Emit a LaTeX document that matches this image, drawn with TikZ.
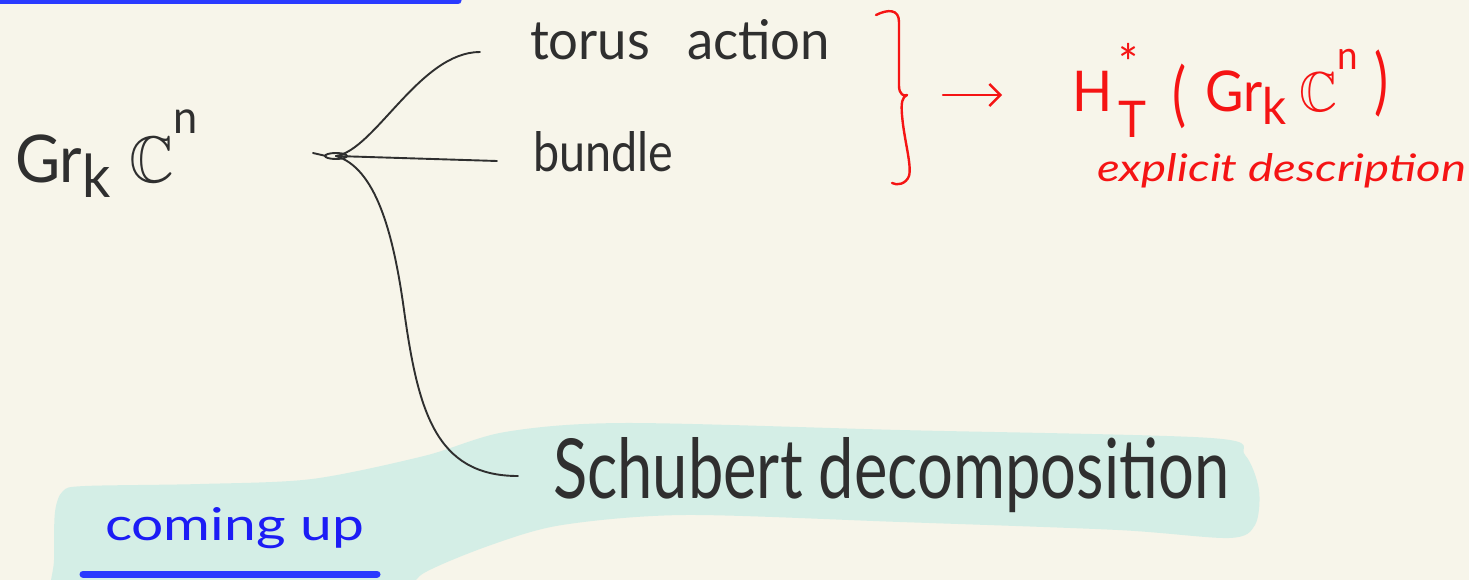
\documentclass[tikz,border=0pt]{standalone}
\usepackage{fontspec}
\setmainfont{Lato}
\usepackage{amssymb}
\usepackage{graphicx}
\usetikzlibrary{arrows.meta}

\definecolor{paper}{HTML}{F7F5EA}
\definecolor{marker}{HTML}{D4EEE6}
\definecolor{ink}{HTML}{2F2F2F}
\definecolor{redink}{HTML}{F51414}
\definecolor{blueink}{HTML}{1C1CF5}
\definecolor{bluebar}{HTML}{2A3AFF}

% scale a piece of text to a given width and height (in pt)
\newcommand{\fitbox}[3]{\resizebox{#1pt}{#2pt}{#3}}

\begin{document}
\begin{tikzpicture}[x=1pt,y=-1pt,
  lbl/.style={anchor=base west, inner sep=0pt, outer sep=0pt},
  wire/.style={draw=ink, line width=1.9pt, line cap=round, line join=round},
  redpen/.style={draw=redink, line width=2.4pt, line cap=round, line join=round},
  bluepen/.style={draw=bluebar, line width=7pt, line cap=round}]

\useasboundingbox (0,0) rectangle (1469,580);
\fill[paper] (0,0) rectangle (1469,580);
\clip (0,0) rectangle (1469,580);

% highlighter band behind the lower text
\fill[marker] plot[smooth cycle, tension=0.5] coordinates {
  (54,620) (54,560) (55,512) (63,491) (85,486) (200,484) (312,479) (424,456)
  (505,432) (624,423) (900,430) (1211,438) (1245,455) (1259,490)
  (1255,525) (1229,538) (1118,530) (900,522) (685,515) (562,525)
  (491,545) (424,573) (395,600) (300,620) (150,620)};

% heading rules
\draw[bluepen] (-10,1) -- (458,1);
\draw[bluepen] (83,574) -- (377,574);

% labels
\node[lbl, text=ink] (gr) at (15,183)
  {\fitbox{183}{73}{Gr\raisebox{-0.22em}{\small k}\kern0.3em$\mathbb{C}$\raisebox{0.75em}{\scriptsize n}}};
\node[lbl, text=ink] (torus) at (530,60) {\fitbox{300}{40}{torus\kern0.7em action}};
\node[lbl, text=ink] (bundle) at (533,172) {\fitbox{140}{40}{bundle}};
\node[lbl, text=ink] (schubert) at (553,498) {\fitbox{676}{61}{Schubert decomposition}};
\node[lbl, text=redink] (ht) at (1072,112)
  {\fitbox{316}{69}{H\kern0.12em\rlap{\raisebox{0.55em}{\small *}}\raisebox{-0.45em}{\small T}\kern0.5em\raisebox{-0.12em}{\scalebox{1}[1.25]{(}}\kern0.35em Gr\raisebox{-0.22em}{\small k}\kern0.25em$\mathbb{C}$\raisebox{0.75em}{\scriptsize n}\kern0.3em\raisebox{0.1em}{\scalebox{1}[1.3]{)}}}};
\node[lbl, text=redink] (expl) at (1097,182) {\fitbox{369}{28}{\itshape explicit description}};
\node[lbl, text=blueink] (coming) at (105,540) {\fitbox{259}{33}{coming up}};

% branching point
\coordinate (j) at (336,156);
\draw[wire] (j) ellipse [x radius=11, y radius=3];
\draw[wire] (313,153) -- ([xshift=-10]j);

% branches
\draw[wire] (j) .. controls (375,150) and (420,52) .. ([shift={(-50,-8)}]torus.base west);
\draw[wire] (j) -- ([shift={(-36,-11)}]bundle.base west);
\draw[wire] (j) .. controls (375,168) and (393,230) .. (404,310)
  .. controls (418,410) and (435,476) .. ([shift={(-35,-22)}]schubert.base west);

% brace gathering the two upper branches
\coordinate (btip) at (907,95);
\draw[redpen] (876,15) .. controls (888,9) and (899,9) .. (899,22) -- (899,86)
  .. controls (899,94) and (904,97) .. (btip)
  .. controls (902,97) and (901,103) .. (902,115)
  .. controls (904,140) and (912,165) .. (909,176)
  .. controls (906,184) and (897,186) .. (892,183);

% arrow to the equivariant cohomology
\draw[redpen, -{Straight Barb[length=11pt,width=22pt]}]
  ([xshift=36]btip) -- ([shift={(-70,-17)}]ht.base west);

\end{tikzpicture}
\end{document}
